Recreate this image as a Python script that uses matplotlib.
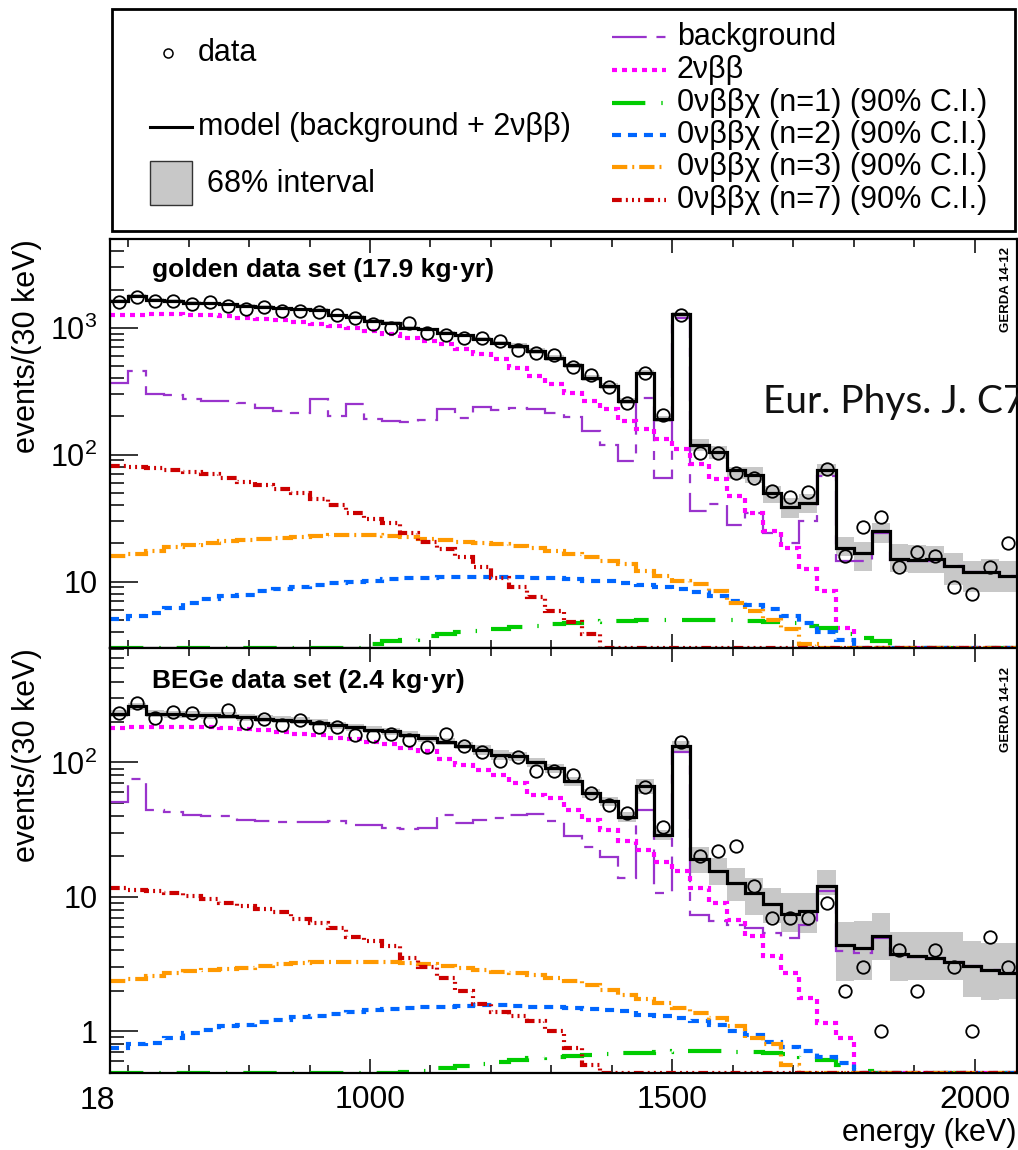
import numpy as np
import matplotlib
matplotlib.use('Agg')
import matplotlib.pyplot as plt
from matplotlib.ticker import LogLocator, NullFormatter, MultipleLocator
from matplotlib.patches import Rectangle
from matplotlib.lines import Line2D

plt.rcParams['font.family'] = ['Liberation Sans', 'DejaVu Sans']
plt.rcParams['mathtext.fontset'] = 'custom'
plt.rcParams['mathtext.rm'] = 'Liberation Sans'
plt.rcParams['mathtext.default'] = 'regular'
plt.rcParams['lines.scale_dashes'] = False

# 30 keV bins, 570 - 2070 keV
e_lo = 570
e_hi = 2070
bin_w = 30
edges = np.arange(e_lo, e_hi + 1, bin_w)
centers = edges[:-1] + bin_w / 2

# ---- golden data set (17.9 kg yr) ----
gold_data = [1592, 1742, 1611, 1633, 1535, 1584, 1482, 1394, 1446, 1345,
             1353, 1336, 1259, 1199, 1075, 994, 1082, 908, 871, 834,
             829, 781, 667, 636, 605, 493, 424, 339, 254, 443,
             205, 1251, 104, 103, 72, 66, 52, 46, 51, 77,
             16, 27, 32, 13, 17, 16, 9, 8, 13, 20]
gold_model = [1622, 1775, 1651, 1622, 1574, 1555, 1527, 1482, 1463, 1420,
              1394, 1377, 1251, 1221, 1128, 1095, 1000, 970, 913, 871,
              819, 762, 718, 655, 580, 505, 403, 347, 265, 443,
              192, 1274, 120, 105, 75.7, 68.7, 49.6, 38.7, 41.9, 75.7,
              18.5, 16.7, 25.1, 15.0, 14.8, 15.0, 13.3, 11.9, 12.0, 11.1]
# 68% interval, relative up / down
gold_up = [0.03, 0.03, 0.03, 0.03, 0.03, 0.03, 0.03, 0.03, 0.03, 0.03,
           0.03, 0.03, 0.03, 0.03, 0.03, 0.03, 0.03, 0.03, 0.03, 0.03,
           0.03, 0.03, 0.05, 0.05, 0.05, 0.05, 0.05, 0.05, 0.05, 0.05,
           0.05, 0.04, 0.10, 0.11, 0.06, 0.17, 0.14, 0.18, 0.16, 0.12,
           0.22, 0.23, 0.16, 0.31, 0.31, 0.28, 0.27, 0.22, 0.25, 0.31]
gold_dn = [0.03, 0.03, 0.03, 0.03, 0.03, 0.03, 0.03, 0.03, 0.03, 0.03,
           0.03, 0.03, 0.03, 0.03, 0.03, 0.03, 0.03, 0.03, 0.03, 0.03,
           0.03, 0.03, 0.05, 0.05, 0.05, 0.05, 0.05, 0.05, 0.05, 0.05,
           0.05, 0.04, 0.11, 0.12, 0.15, 0.13, 0.16, 0.18, 0.17, 0.10,
           0.14, 0.28, 0.19, 0.21, 0.21, 0.22, 0.29, 0.31, 0.31, 0.26]
gold_bkg = [365, 456, 299, 295, 273, 265, 265, 257, 232, 221,
            214, 276, 201, 249, 190, 184, 182, 188, 228, 195,
            237, 225, 234, 228, 214, 199, 153, 120, 89, 281,
            66, 1199, 36, 41, 28, 35, 24, 20, 30, 68,
            14.6, 14.6, 24, 14.8, 14.6, 14.6, 13.2, 11.8, 11.9, 11.0]
gold_2nbb = [1251, 1266, 1274, 1274, 1266, 1258, 1236, 1199, 1178, 1142,
             1108, 1075, 1031, 994, 941, 886, 834, 785, 739, 675,
             616, 563, 484, 416, 358, 308, 265, 228, 184, 158,
             132, 110, 84, 64, 47, 35, 25, 18.5, 12.5, 8.4,
             4.3, 0, 0, 0, 0, 0, 0, 0, 0, 0]
gold_n1 = [0.8, 1.0, 1.15, 1.3, 1.45, 1.6, 1.75, 1.9, 2.05, 2.2,
           2.4, 2.6, 2.8, 3.0, 3.2, 3.4, 3.5, 3.7, 3.9, 4.0,
           4.1, 4.2, 4.4, 4.5, 4.6, 4.7, 4.8, 4.9, 4.9, 5.0,
           5.0, 5.0, 5.0, 5.0, 4.95, 4.9, 4.85, 4.7, 4.5, 4.3,
           3.85, 3.6, 3.4, 2.5, 1.0, 0, 0, 0, 0, 0]
gold_n2 = [5.05, 5.4, 5.7, 6.2, 6.8, 7.3, 7.7, 7.9, 8.4, 8.8,
           9.1, 9.4, 9.7, 9.9, 10.2, 10.4, 10.6, 10.7, 10.9, 10.9,
           10.9, 10.9, 10.9, 10.7, 10.6, 10.4, 10.2, 10.1, 9.8, 9.4,
           9.0, 8.7, 8.3, 7.7, 7.0, 6.6, 6.1, 5.4, 4.75, 4.0,
           3.5, 2.5, 1.2, 0, 0, 0, 0, 0, 0, 0]
gold_n3 = [15.9, 16.6, 17.4, 18.9, 19.6, 20.3, 20.8, 21.3, 21.8, 22.2,
           22.6, 22.9, 23.1, 23.2, 23.1, 22.9, 22.4, 21.8, 21.1, 20.5,
           20.1, 19.7, 19.1, 18.5, 17.4, 16.4, 15.5, 14.6, 13.7, 12.1,
           11.1, 10.1, 9.5, 8.5, 6.8, 5.9, 5.0, 4.2, 3.2, 2.4,
           1.5, 0.8, 0.3, 0, 0, 0, 0, 0, 0, 0]
gold_n7 = [82, 80, 78, 76, 73, 70, 66, 61, 58, 54,
           50, 45, 40, 35, 31, 29, 24, 20.5, 18, 15.5,
           13, 10.7, 9.0, 7.5, 5.9, 4.8, 3.85, 2.6, 1.8, 1.1,
           0.6, 0.3, 0, 0, 0, 0, 0, 0, 0, 0,
           0, 0, 0, 0, 0, 0, 0, 0, 0, 0]

# ---- BEGe data set (2.4 kg yr) ----
bege_data = [233, 276, 214, 239, 233, 202, 244, 196, 211, 191,
             208, 182, 185, 161, 156, 162, 146, 130, 163, 132,
             119, 102, 110, 87, 87, 80, 59, 48, 42, 66,
             33, 143, 20, 22, 24, 12, 7, 7, 7, 9,
             2, 3, 1, 4, 2, 4, 3, 1, 5, 3]
bege_model = [230, 261, 230, 228, 226, 224, 222, 216, 212, 208,
              205, 198, 190, 183, 175, 170, 161, 152, 143, 133,
              124, 114, 111, 100, 90.7, 72.3, 59.2, 51.3, 39.3, 66.4,
              29.0, 133, 19.1, 15.5, 12.7, 10.7, 8.9, 7.5, 7.9, 12.1,
              4.41, 4.17, 5.14, 3.76, 3.61, 3.51, 3.28, 3.08, 2.87, 2.71]
bege_up = [0.06, 0.06, 0.06, 0.06, 0.06, 0.06, 0.06, 0.06, 0.06, 0.06,
           0.06, 0.06, 0.06, 0.06, 0.06, 0.06, 0.06, 0.06, 0.06, 0.06,
           0.08, 0.08, 0.08, 0.08, 0.08, 0.08, 0.08, 0.08, 0.08, 0.13,
           0.09, 0.09, 0.24, 0.26, 0.29, 0.29, 0.30, 0.42, 0.35, 0.30,
           0.47, 0.58, 0.47, 0.46, 0.53, 0.57, 0.68, 0.53, 0.57, 0.68]
bege_dn = [0.06, 0.06, 0.06, 0.06, 0.06, 0.06, 0.06, 0.06, 0.06, 0.06,
           0.06, 0.06, 0.06, 0.06, 0.06, 0.06, 0.06, 0.06, 0.06, 0.06,
           0.08, 0.08, 0.08, 0.08, 0.08, 0.08, 0.08, 0.08, 0.08, 0.13,
           0.09, 0.09, 0.21, 0.21, 0.27, 0.31, 0.28, 0.27, 0.32, 0.14,
           0.46, 0.42, 0.34, 0.37, 0.33, 0.31, 0.27, 0.42, 0.40, 0.36]
bege_bkg = [50.7, 75.2, 44.5, 42.7, 40.8, 40.1, 40.1, 37.5, 36.4, 35.8,
            35.8, 35.8, 36.4, 34.4, 34.4, 32.5, 31.9, 32.5, 40.8, 35.4,
            37.5, 38.5, 40.8, 41.5, 36.4, 28.5, 23.7, 19.8, 13.8, 44.5,
            10.7, 119, 7.37, 6.58, 6.21, 5.87, 5.38, 4.94, 6.21, 11.0,
            3.93, 3.82, 4.94, 3.72, 3.6, 3.51, 3.28, 3.08, 2.87, 2.71]
bege_2nbb = [180, 183, 185, 185, 185, 183, 180, 177, 173, 168,
             163, 159, 153, 149, 143, 137, 128, 121, 106, 96,
             88, 81, 70, 57.5, 54, 44, 37.5, 31.6, 25.9, 22.4,
             18.1, 15.5, 11.6, 9.0, 6.77, 5.08, 3.61, 2.71, 1.77, 1.15,
             0.89, 0, 0, 0, 0, 0, 0, 0, 0, 0]
bege_n1 = [0.30, 0.32, 0.34, 0.36, 0.37, 0.38, 0.39, 0.40, 0.41, 0.42,
           0.43, 0.44, 0.45, 0.46, 0.47, 0.48, 0.50, 0.51, 0.53, 0.55,
           0.57, 0.59, 0.61, 0.63, 0.64, 0.66, 0.67, 0.68, 0.69, 0.69,
           0.70, 0.71, 0.71, 0.71, 0.70, 0.70, 0.69, 0.68, 0.65, 0.61,
           0.56, 0.51, 0.48, 0, 0, 0, 0, 0, 0, 0]
bege_n2 = [0.75, 0.80, 0.82, 0.89, 0.97, 1.03, 1.09, 1.12, 1.17, 1.22,
           1.28, 1.31, 1.35, 1.39, 1.43, 1.47, 1.49, 1.52, 1.53, 1.55,
           1.56, 1.56, 1.55, 1.53, 1.52, 1.49, 1.47, 1.45, 1.41, 1.33,
           1.29, 1.26, 1.19, 1.12, 1.0, 0.94, 0.84, 0.77, 0.71, 0.65,
           0.58, 0.4, 0, 0, 0, 0, 0, 0, 0, 0]
bege_n3 = [2.35, 2.45, 2.56, 2.71, 2.79, 2.87, 2.92, 2.96, 3.08, 3.18,
           3.22, 3.26, 3.29, 3.29, 3.29, 3.29, 3.25, 3.18, 3.08, 2.96,
           2.85, 2.75, 2.71, 2.64, 2.49, 2.35, 2.22, 2.04, 1.87, 1.74,
           1.62, 1.49, 1.38, 1.26, 1.09, 0.89, 0.80, 0.56, 0.45, 0.3,
           0.15, 0, 0, 0, 0, 0, 0, 0, 0, 0]
bege_n7 = [11.6, 11.3, 11.0, 10.6, 10.2, 9.6, 9.0, 8.5, 8.1, 7.7,
           6.9, 6.4, 5.9, 5.0, 4.7, 4.3, 3.5, 3.0, 2.5, 2.0,
           1.6, 1.4, 1.3, 1.2, 1.0, 0.75, 0.56, 0.4, 0.25, 0.15,
           0.08, 0, 0, 0, 0, 0, 0, 0, 0, 0,
           0, 0, 0, 0, 0, 0, 0, 0, 0, 0]

comp_labels = ['background', '2\u03bd\u03b2\u03b2',
               '0\u03bd\u03b2\u03b2\u03c7 (n=1) (90% C.I.)',
               '0\u03bd\u03b2\u03b2\u03c7 (n=2) (90% C.I.)',
               '0\u03bd\u03b2\u03b2\u03c7 (n=3) (90% C.I.)',
               '0\u03bd\u03b2\u03b2\u03c7 (n=7) (90% C.I.)']

# styles (color, linewidth, dash pattern in pt)
styles = [
    ('#9933cc', 1.6, (25, 7, 6.5, 7)),
    ('#ff00ff', 3.0, (3.6, 3.6)),
    ('#00cc00', 3.0, (24, 11.5, 1, 11.5)),
    ('#0066ff', 3.0, (6.5, 5)),
    ('#ff9900', 3.0, (11, 3.6, 1.4, 3.6)),
    ('#cc0000', 3.0, (7, 3, 1.4, 3, 1.4, 3, 1.4, 3)),
]
band_color = '#c8c8c8'

fig = plt.figure(figsize=(10.18, 11.5), dpi=100)
ax1 = fig.add_axes([110 / 1018, 1 - 648 / 1150, 907 / 1018, 409 / 1150])
ax2 = fig.add_axes([110 / 1018, 1 - 1073 / 1150, 907 / 1018, 425 / 1150])


def draw_panel(ax, data, model, up, dn, comps, ymin, ymax):
    model = np.array(model, float)
    lo = model * (1 - np.array(dn))
    hi = model * (1 + np.array(up))
    ax.stairs(hi, edges, baseline=lo, fill=True, color=band_color, lw=0, zorder=1)
    for vals, (c, lw, dash) in zip(comps, styles):
        v = np.clip(np.array(vals, float), ymin, None)
        ax.stairs(v, edges, baseline=None, color=c, lw=lw, linestyle=(0, dash), zorder=2)
    ax.stairs(model, edges, baseline=None, color='k', lw=2.3, zorder=3)
    ax.plot(centers, data, 'o', mfc='none', mec='k', ms=9, mew=1.3, zorder=4)

    ax.set_xlim(e_lo, e_hi)
    ax.set_yscale('log')
    ax.set_ylim(ymin, ymax)
    ax.set_xticks([1000, 1500, 2000])
    ax.xaxis.set_minor_locator(MultipleLocator(100))
    ax.yaxis.set_minor_locator(LogLocator(base=10, subs=np.arange(2, 10), numticks=50))
    ax.yaxis.set_minor_formatter(NullFormatter())
    ax.tick_params(axis='x', which='major', direction='in', length=10, width=1.1,
                   top=True, bottom=True, labelsize=23, pad=9)
    ax.tick_params(axis='x', which='minor', direction='in', length=5.5, width=1.1,
                   top=True, bottom=True)
    ax.tick_params(axis='y', which='major', direction='in', length=20, width=1.1,
                   right=False, labelsize=22, pad=9)
    ax.tick_params(axis='y', which='minor', direction='in', length=10, width=1.1,
                   right=False)
    for s in ax.spines.values():
        s.set_linewidth(1.6)
    ax.set_ylabel('events/(30 keV)', fontsize=22, loc='top')
    ax.yaxis.set_label_coords(-0.075, 1.0)


draw_panel(ax1, gold_data, gold_model, gold_up, gold_dn,
           [gold_bkg, gold_2nbb, gold_n1, gold_n2, gold_n3, gold_n7], 3, 5000)
draw_panel(ax2, bege_data, bege_model, bege_up, bege_dn,
           [bege_bkg, bege_2nbb, bege_n1, bege_n2, bege_n3, bege_n7], 0.49, 710)

ax1.set_yticks([10, 100, 1000], ['10', '10$^{2}$', '10$^{3}$'])
ax2.set_yticks([1, 10, 100], ['1', '10', '10$^{2}$'])
ax1.tick_params(axis='x', labelbottom=False)

ax1.text(0.046, 0.924, 'golden data set (17.9 kg\u00b7yr)', transform=ax1.transAxes,
         fontsize=19, fontweight='bold', va='center', ha='left')
ax2.text(0.046, 0.922, 'BEGe data set (2.4 kg\u00b7yr)', transform=ax2.transAxes,
         fontsize=19, fontweight='bold', va='center', ha='left')
ax1.text(0.988, 0.98, 'GERDA 14-12', transform=ax1.transAxes, rotation=90,
         fontsize=9.5, fontweight='bold', va='top', ha='center')
ax2.text(0.988, 0.955, 'GERDA 14-12', transform=ax2.transAxes, rotation=90,
         fontsize=9.5, fontweight='bold', va='top', ha='center')

ax2.set_xlabel('energy (keV)', fontsize=22, loc='right')
ax2.xaxis.set_label_coords(1.0, -0.105)
ax2.text(-0.0143, -0.03, '18', transform=ax2.transAxes, fontsize=23,
         va='top', ha='center')

# stray journal text that runs off the right edge, as in the source image
fig.text(763 / 1018, 1 - 413 / 1150, 'Eur. Phys. J. C7', fontsize=28,
         family=['Lato', 'DejaVu Sans'], fontweight='normal', color='#111111',
         va='baseline', ha='left')

# legend box, drawn in pixel coordinates
lax = fig.add_axes([0, 0, 1, 1])
lax.set_xlim(0, 1018)
lax.set_ylim(1150, 0)
lax.axis('off')
lax.add_patch(Rectangle((112, 9), 903, 222, fill=False, lw=2, ec='k'))
lax.plot([168], [53], 'o', mfc='none', mec='k', ms=6.5, mew=1.1)
lax.text(198, 53, 'data', fontsize=22, va='center', ha='left')
lax.add_line(Line2D([150, 192], [127, 127], color='k', lw=2.2))
lax.text(198, 127, 'model (background + 2\u03bd\u03b2\u03b2)', fontsize=22, va='center', ha='left')
lax.add_patch(Rectangle((150, 161), 42, 44, fc=band_color, ec='#333333', lw=1))
lax.text(207, 184, '68% interval', fontsize=22, va='center', ha='left')
row_y = [37, 70, 103, 135, 167, 200]
for lab, (c, lw, dash), yy in zip(comp_labels, styles, row_y):
    lax.add_line(Line2D([612, 666], [yy, yy], color=c, lw=lw, linestyle=(0, dash)))
    lax.text(677, yy, lab, fontsize=22, va='center', ha='left')

fig.savefig('out.png', dpi=100)
